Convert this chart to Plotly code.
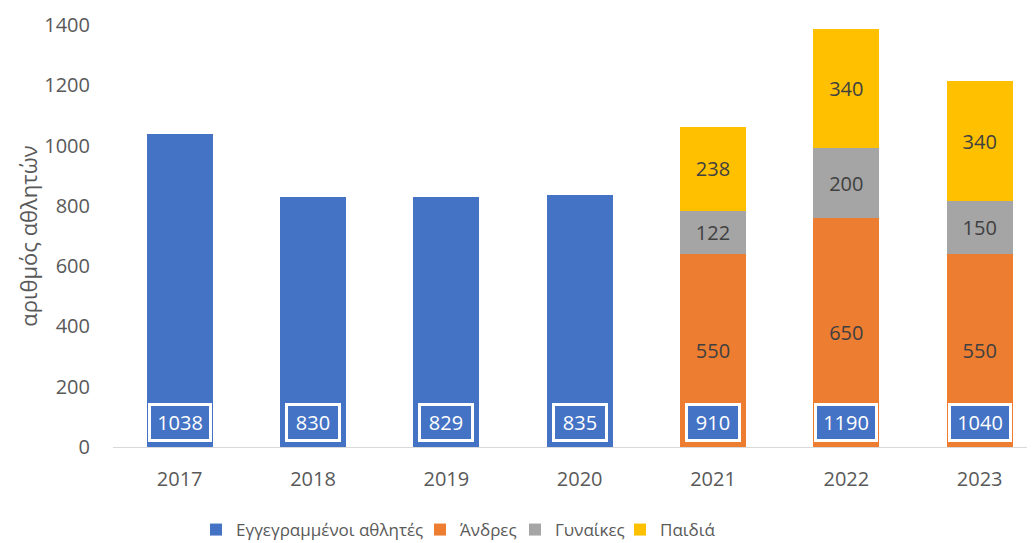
import plotly.graph_objects as go

years = ["2017", "2018", "2019", "2020", "2021", "2022", "2023"]
registered = [1038, 830, 829, 835, 910, 1190, 1040]
split_years = ["2021", "2022", "2023"]
men = [550, 650, 550]
women = [122, 200, 150]
children = [238, 340, 340]

BLUE = "#4472C4"
ORANGE = "#ED7D31"
GRAY = "#A5A5A5"
YELLOW = "#FFC000"
TXT = "#595959"
FONT = "Open Sans"
PAGE_OFF = 8  # default body margin of the html page

fig = go.Figure()
fig.add_bar(x=years, y=registered, name="Εγγεγραμμένοι αθλητές",
            marker=dict(color=BLUE, line=dict(width=0)), yaxis="y",
            legend="legend")
for vals, nm, col, lg in [(men, "Άνδρες", ORANGE, "legend2"),
                          (women, "Γυναίκες", GRAY, "legend3"),
                          (children, "Παιδιά", YELLOW, "legend4")]:
    fig.add_bar(x=split_years, y=vals, name=nm, yaxis="y2", legend=lg,
                marker=dict(color=col, line=dict(width=0)),
                texttemplate="%{y}", textposition="inside",
                insidetextanchor="middle",
                textfont=dict(family=FONT, size=20, color="#404040"))

annotations = []
for i, v in enumerate(registered):
    s = str(v)
    annotations.append(dict(x=i, y=0, xref="x", yref="y", yanchor="bottom",
                            yshift=5, text=s, showarrow=False,
                            width=8 * len(s) + 20,
                            bgcolor=BLUE, bordercolor="white", borderwidth=3,
                            borderpad=3,
                            font=dict(family=FONT, size=20, color="white")))

# legend square-centre positions (screen pixels) from the reference
leg_px = [217, 441, 536, 641]
leg_common = dict(orientation="h", xref="container", yref="container",
                  xanchor="left", yanchor="middle",
                  y=(543 - (530 - PAGE_OFF)) / 543,
                  bgcolor="rgba(0,0,0,0)",
                  font=dict(family=FONT, size=17, color=TXT))


def lx(px):
    return (px - PAGE_OFF - 21) / 1035


fig.update_layout(
    width=1035, height=543,
    margin=dict(l=113 - PAGE_OFF, r=PAGE_OFF, t=25 - PAGE_OFF,
                b=543 - (447 - PAGE_OFF), autoexpand=False),
    paper_bgcolor="white", plot_bgcolor="white",
    barmode="stack", bargap=0.505,
    font=dict(family=FONT, size=20, color=TXT),
    xaxis=dict(type="category", range=[-0.5, 6.415], showgrid=False,
               showline=True, linecolor="#D9D9D9", linewidth=1,
               ticks="", ticklabelstandoff=14, automargin=False,
               tickfont=dict(family=FONT, size=20, color=TXT)),
    yaxis=dict(range=[0, 1400], dtick=200, showgrid=False, zeroline=False,
               showline=False, ticks="", ticklabelstandoff=22,
               automargin=False,
               tickfont=dict(family=FONT, size=20, color=TXT),
               title=dict(text="αριθμός αθλητών", standoff=0,
                          font=dict(family=FONT, size=22, color=TXT))),
    yaxis2=dict(range=[0, 1200], overlaying="y", side="right", visible=False,
                showgrid=False, zeroline=False, automargin=False),
    legend=dict(x=lx(leg_px[0]), **leg_common),
    legend2=dict(x=lx(leg_px[1]), **leg_common),
    legend3=dict(x=lx(leg_px[2]), **leg_common),
    legend4=dict(x=lx(leg_px[3]), **leg_common),
    annotations=annotations,
    showlegend=True,
)

fig.write_html("out.html")
